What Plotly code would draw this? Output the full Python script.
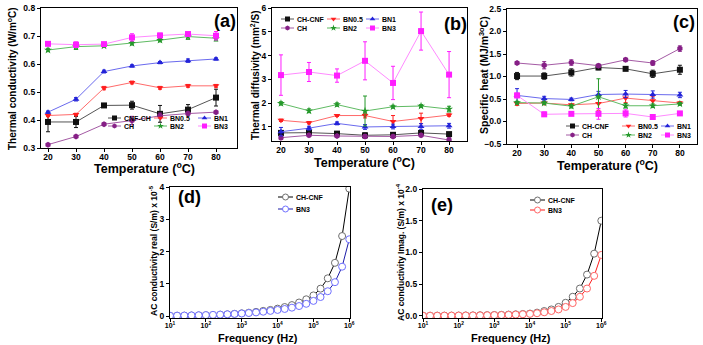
import plotly.graph_objects as go

W, H = 703, 345
FONT = "Liberation Sans"

TEMP_C = [20, 30, 40, 50, 60, 70, 80]

# (a) thermal conductivity (W/m oC)
TC_CNF_CH = [0.393, 0.393, 0.452, 0.453, 0.422, 0.437, 0.480]
TC_CNF_CH_ERR = [0.035, 0.020, 0.005, 0.014, 0.030, 0.018, 0.030]
TC_BN05 = [0.416, 0.420, 0.514, 0.534, 0.515, 0.522, 0.522]
TC_BN05_ERR = [0.004, 0.004, 0.006, 0.005, 0.005, 0.005, 0.005]
TC_BN1 = [0.428, 0.474, 0.573, 0.593, 0.605, 0.612, 0.618]
TC_BN1_ERR = [0.004, 0.006, 0.005, 0.004, 0.004, 0.006, 0.004]
TC_CH = [0.312, 0.341, 0.385, 0.398, 0.415, 0.423, 0.428]
TC_CH_ERR = [0.003, 0.003, 0.004, 0.015, 0.010, 0.005, 0.003]
TC_BN2 = [0.650, 0.662, 0.665, 0.674, 0.685, 0.698, 0.692]
TC_BN2_ERR = [0.006, 0.010, 0.005, 0.006, 0.006, 0.010, 0.010]
TC_BN3 = [0.672, 0.669, 0.671, 0.695, 0.702, 0.707, 0.701]
TC_BN3_ERR = [0.004, 0.010, 0.005, 0.013, 0.008, 0.005, 0.015]

# (b) thermal diffusivity (mm2/S)
TD_CH_CNF = [0.75, 0.76, 0.72, 0.65, 0.67, 0.75, 0.70]
TD_CH_CNF_ERR = [0.05, 0.05, 0.05, 0.10, 0.05, 0.05, 0.05]
TD_BN05 = [1.28, 1.18, 1.48, 1.48, 1.23, 1.36, 1.50]
TD_BN05_ERR = [0.05, 0.05, 0.04, 0.10, 0.25, 0.22, 0.05]
TD_BN1 = [0.80, 0.95, 1.15, 1.00, 1.02, 1.02, 1.05]
TD_BN1_ERR = [0.18, 0.08, 0.06, 0.10, 0.10, 0.12, 0.10]
TD_CH = [0.55, 0.65, 0.62, 0.60, 0.60, 0.65, 0.45]
TD_CH_ERR = [0.08, 0.06, 0.06, 0.08, 0.06, 0.06, 0.10]
TD_BN2 = [1.99, 1.68, 1.94, 1.67, 1.85, 1.88, 1.75]
TD_BN2_ERR = [0.07, 0.08, 0.07, 0.63, 0.06, 0.06, 0.12]
TD_BN3 = [3.18, 3.31, 3.16, 3.78, 2.85, 5.03, 3.20]
TD_BN3_ERR = [0.85, 0.40, 0.28, 0.80, 0.70, 0.80, 0.97]

# (c) specific heat (MJ/m3 oC)
SH_CH_CNF = [1.01, 1.01, 1.09, 1.20, 1.17, 1.06, 1.15]
SH_CH_CNF_ERR = [0.08, 0.07, 0.08, 0.05, 0.02, 0.08, 0.10]
SH_BN05 = [0.40, 0.41, 0.37, 0.40, 0.52, 0.46, 0.41]
SH_BN05_ERR = [0.04, 0.03, 0.02, 0.15, 0.10, 0.10, 0.03]
SH_BN1 = [0.58, 0.51, 0.49, 0.60, 0.61, 0.60, 0.59]
SH_BN1_ERR = [0.15, 0.05, 0.03, 0.07, 0.08, 0.08, 0.06]
SH_CH = [1.30, 1.25, 1.31, 1.24, 1.37, 1.30, 1.62]
SH_CH_ERR = [0.03, 0.08, 0.06, 0.04, 0.04, 0.05, 0.06]
SH_BN2 = [0.42, 0.41, 0.34, 0.55, 0.35, 0.35, 0.39]
SH_BN2_ERR = [0.03, 0.03, 0.04, 0.40, 0.05, 0.04, 0.03]
SH_BN3 = [0.58, 0.16, 0.17, 0.17, 0.18, 0.10, 0.18]
SH_BN3_ERR = [0.05, 0.05, 0.03, 0.12, 0.08, 0.02, 0.02]

# (d), (e) AC conductivity vs frequency
FREQ_HZ = [1.00e1, 1.58e1, 2.51e1, 3.98e1, 6.31e1,
           1.00e2, 1.58e2, 2.51e2, 3.98e2, 6.31e2,
           1.00e3, 1.58e3, 2.51e3, 3.98e3, 6.31e3,
           1.00e4, 1.58e4, 2.51e4, 3.98e4, 6.31e4,
           1.00e5, 1.58e5, 2.51e5, 3.98e5, 6.31e5, 1.00e6]
AC_REAL_CH_CNF = [0.008, 0.010, 0.013, 0.017, 0.021, 0.027, 0.034, 0.043, 0.054, 0.068,
                  0.085, 0.105, 0.130, 0.160, 0.190, 0.230, 0.280, 0.340, 0.420, 0.520,
                  0.640, 0.850, 1.170, 1.650, 2.480, 3.950]
AC_REAL_BN3 = [0.010, 0.013, 0.016, 0.020, 0.025, 0.030, 0.037, 0.045, 0.055, 0.066,
               0.080, 0.095, 0.113, 0.135, 0.160, 0.190, 0.220, 0.260, 0.310, 0.380,
               0.470, 0.590, 0.770, 1.050, 1.530, 2.380]
AC_IMAG_CH_CNF = [0.001, 0.0015, 0.002, 0.0025, 0.003, 0.004, 0.005, 0.006, 0.008, 0.010,
                  0.012, 0.015, 0.019, 0.023, 0.028, 0.035, 0.050, 0.075, 0.100, 0.140,
                  0.205, 0.300, 0.430, 0.650, 0.980, 1.500]
AC_IMAG_BN3 = [0.001, 0.001, 0.0015, 0.002, 0.0025, 0.003, 0.004, 0.005, 0.006, 0.008,
               0.010, 0.012, 0.015, 0.019, 0.024, 0.030, 0.040, 0.055, 0.075, 0.100,
               0.140, 0.200, 0.300, 0.430, 0.630, 0.960]
FREQ_TICKS = [1e1, 1e2, 1e3, 1e4, 1e5, 1e6]
FREQ_TICK_TEXT = ["10<sup>1</sup>", "10<sup>2</sup>", "10<sup>3</sup>",
                  "10<sup>4</sup>", "10<sup>5</sup>", "10<sup>6</sup>"]

STYLE = {
    "CNF": dict(symbol="square", color="#111111", line="#555555"),
    "BN05": dict(symbol="triangle-down", color="#ff1e1e", line="#ff6a6a"),
    "BN1": dict(symbol="triangle-up", color="#2323d8", line="#6a6aee"),
    "CH": dict(symbol="hexagon", color="#861f86", line="#a45aa4"),
    "BN2": dict(symbol="star", color="#24982a", line="#5fbb63"),
    "BN3": dict(symbol="square", color="#ff1eff", line="#ff8aff"),
}
AC_STYLE = {
    "CNF": dict(line="#000000", edge="#6e6e6e"),
    "BN3_d": dict(line="#1c1ca8", edge="#6f6fff"),
    "BN3_e": dict(line="#ff1a1a", edge="#ff6666"),
}


def ax(n):
    return ("x", "y") if n == 1 else (f"x{n}", f"y{n}")


def dom(x0, x1, top, bottom):
    return [x0 / W, x1 / W], [1 - bottom / H, 1 - top / H]


def bold(size):
    return dict(family=FONT, size=size, color="black", weight="bold")


fig = go.Figure()


def add_temp_series(n, series):
    xa, ya = ax(n)
    for key, vals, errs in series:
        st = STYLE[key]
        fig.add_trace(go.Scatter(
            x=TEMP_C, y=vals, mode="lines+markers", xaxis=xa, yaxis=ya,
            line=dict(color=st["line"], width=1),
            marker=dict(symbol=st["symbol"], size=6, color=st["color"]),
            error_y=dict(type="data", array=errs, color=st["color"], thickness=1, width=2),
            showlegend=False))


def add_ac_series(n, series):
    xa, ya = ax(n)
    for key, vals in series:
        st = AC_STYLE[key]
        fig.add_trace(go.Scatter(
            x=FREQ_HZ, y=vals, mode="lines+markers", xaxis=xa, yaxis=ya,
            line=dict(color=st["line"], width=1),
            marker=dict(symbol="circle", size=7, color="white",
                        line=dict(color=st["edge"], width=1)),
            showlegend=False))


add_temp_series(1, [("CNF", TC_CNF_CH, TC_CNF_CH_ERR), ("CH", TC_CH, TC_CH_ERR),
                    ("BN05", TC_BN05, TC_BN05_ERR), ("BN1", TC_BN1, TC_BN1_ERR),
                    ("BN2", TC_BN2, TC_BN2_ERR), ("BN3", TC_BN3, TC_BN3_ERR)])
add_temp_series(2, [("CNF", TD_CH_CNF, TD_CH_CNF_ERR), ("CH", TD_CH, TD_CH_ERR),
                    ("BN05", TD_BN05, TD_BN05_ERR), ("BN1", TD_BN1, TD_BN1_ERR),
                    ("BN2", TD_BN2, TD_BN2_ERR), ("BN3", TD_BN3, TD_BN3_ERR)])
add_temp_series(3, [("CNF", SH_CH_CNF, SH_CH_CNF_ERR), ("CH", SH_CH, SH_CH_ERR),
                    ("BN05", SH_BN05, SH_BN05_ERR), ("BN1", SH_BN1, SH_BN1_ERR),
                    ("BN2", SH_BN2, SH_BN2_ERR), ("BN3", SH_BN3, SH_BN3_ERR)])
add_ac_series(4, [("CNF", AC_REAL_CH_CNF), ("BN3_d", AC_REAL_BN3)])
add_ac_series(5, [("CNF", AC_IMAG_CH_CNF), ("BN3_e", AC_IMAG_BN3)])


# legend keys, panel letters and axis titles sit on a full-figure pixel canvas (x6/y6)
def note(x, y, text, size, **kw):
    fig.add_annotation(x=x, y=y, xref="x6", yref="y6", text=text, showarrow=False,
                       font=bold(size), **kw)


def key(x, y, name, st, symbol, size, fill, edge, length=13):
    fig.add_trace(go.Scatter(x=[x, x + length], y=[y, y], mode="lines", xaxis="x6", yaxis="y6",
                             line=dict(color=st, width=1), showlegend=False, hoverinfo="skip"))
    fig.add_trace(go.Scatter(x=[x + length / 2], y=[y], mode="markers", xaxis="x6", yaxis="y6",
                             marker=dict(symbol=symbol, size=size, color=fill,
                                         line=dict(color=edge, width=1 if fill == "white" else 0)),
                             showlegend=False, hoverinfo="skip"))
    note(x + length + 1, y, name, 7, xanchor="left", yanchor="middle")


def temp_legend(cols, rows, names):
    grid = [["CNF", "BN05", "BN1"], ["CH", "BN2", "BN3"]]
    for r, row in enumerate(grid):
        for c, k in enumerate(row):
            st = STYLE[k]
            key(cols[c], rows[r], names[k], st["line"], st["symbol"], 5, st["color"], st["color"])


NAMES_A = {"CNF": "CNF-CH", "BN05": "BN0.5", "BN1": "BN1", "CH": "CH", "BN2": "BN2", "BN3": "BN3"}
NAMES_BC = dict(NAMES_A, CNF="CH-CNF")
temp_legend([108, 154, 198], [118, 126], NAMES_A)
temp_legend([281, 327, 366], [19, 28], NAMES_BC)
temp_legend([566, 622, 661], [126, 135], NAMES_BC)

for (x0, rows, k3) in [(278, [197, 209], "BN3_d"), (530, [200, 210], "BN3_e")]:
    for r, k in zip(rows, ["CNF", k3]):
        st = AC_STYLE[k]
        key(x0, r, "CH-CNF" if k == "CNF" else "BN3", st["line"], "circle", 6, "white", st["edge"], 15)

for txt, x, y in [("(a)", 225, 21), ("(b)", 455, 24), ("(c)", 684, 22), ("(d)", 189, 197), ("(e)", 442, 205)]:
    note(x, y, txt, 18)

T_TITLE = "Temperature (<sup>o</sup>C)"
F_TITLE = "Frequency (Hz)"
axis_titles = [
    (144, 168, T_TITLE, 12.5, 0), (12, 79, "Thermal conductivity (W/m<sup>o</sup>C)", 10, -90),
    (364, 162, T_TITLE, 12.5, 0), (255, 75, "Thermal diffusivity (mm<sup>2</sup>/S)", 10, -90),
    (607, 165, T_TITLE, 12.5, 0), (483, 75, "Specific heat (MJ/m<sup>3o</sup>C)", 10.5, -90),
    (258, 338, F_TITLE, 11, 0), (153, 251, "AC conductivity real (S/m) x 10<sup>-5</sup>", 8.5, -90),
    (511, 338, F_TITLE, 11, 0), (400, 252, "AC conductivity Imag. (S/m) x 10<sup>-4</sup>", 8.5, -90),
]
for x, y, txt, size, ang in axis_titles:
    note(x, y, txt, size, textangle=ang)

frame = dict(showline=True, linecolor="black", linewidth=1.2, mirror=True, ticks="outside",
             ticklen=3, tickwidth=1, tickcolor="black", showgrid=False, zeroline=False,
             tickfont=bold(8.5), automargin=False)

log_x = dict(type="log", range=[1, 6.02], tickvals=FREQ_TICKS, ticktext=FREQ_TICK_TEXT,
             tickfont=bold(7), ticklabelstandoff=-3)

panels = [
    # n, px box (x0, x1, top, bottom), x settings, y settings
    (1, (41, 237, 8, 148), dict(range=[17.5, 87.5], dtick=10, tick0=0, ticklabelstandoff=-2),
     dict(range=[0.3, 0.8], dtick=0.1, tick0=0, tickformat=".1f")),
    (2, (272, 467, 8, 141), dict(range=[16.8, 86.4], dtick=10, tick0=0, ticklabelstandoff=-2),
     dict(range=[0.41, 6], dtick=1, tick0=0)),
    (3, (507, 697, 9, 144), dict(range=[16.3, 86.3], dtick=10, tick0=0, ticklabelstandoff=-2),
     dict(range=[-0.5, 2.5], dtick=0.5, tick0=0, tickformat=".1f")),
    (4, (170, 350, 187, 318), log_x, dict(range=[-0.06, 4.0], dtick=1, tick0=0)),
    (5, (423, 602, 189, 318), log_x, dict(range=[-0.035, 2.0], dtick=0.5, tick0=0, tickformat=".1f")),
]

layout = {}
for n, box, xs, ys in panels:
    xd, yd = dom(*box)
    xa, ya = ax(n)
    xname = "xaxis" if n == 1 else f"xaxis{n}"
    yname = "yaxis" if n == 1 else f"yaxis{n}"
    layout[xname] = {**frame, "domain": xd, "anchor": ya, **xs}
    layout[yname] = {**frame, "domain": yd, "anchor": xa, **ys}

layout["xaxis6"] = dict(domain=[0, 1], range=[0, W], anchor="y6", visible=False, fixedrange=True)
layout["yaxis6"] = dict(domain=[0, 1], range=[H, 0], anchor="x6", visible=False, fixedrange=True)

fig.update_layout(
    width=W, height=H, margin=dict(l=0, r=0, t=0, b=0),
    paper_bgcolor="white", plot_bgcolor="rgba(0,0,0,0)", showlegend=False,
    font=dict(family=FONT, color="black"),
    **layout,
)

fig.write_html("out.html", config={"displayModeBar": False},
               post_script="document.body.style.margin = '0';")
